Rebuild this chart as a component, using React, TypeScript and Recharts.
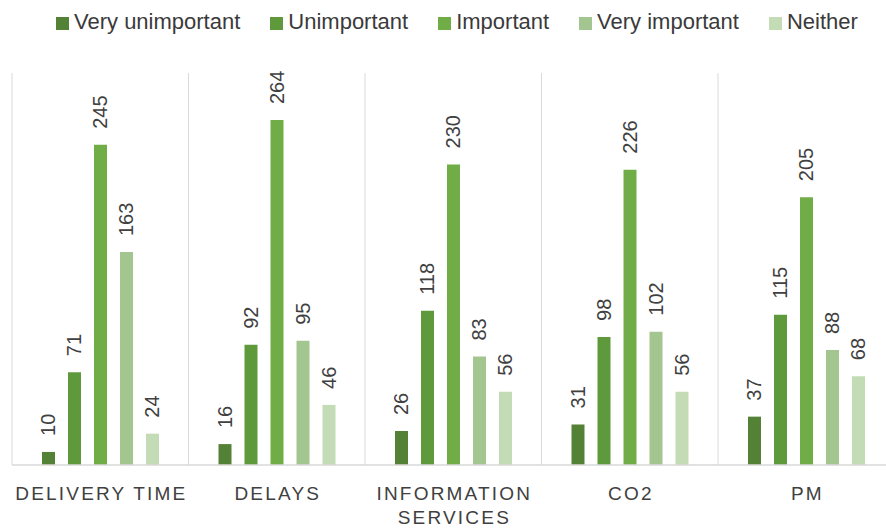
import React from "react";
import { BarChart, Bar, XAxis, YAxis, CartesianGrid, LabelList } from "recharts";

const categories = ["DELIVERY TIME", "DELAYS", "INFORMATION SERVICES", "CO2", "PM"];
const seriesNames = ["Very unimportant", "Unimportant", "Important", "Very important", "Neither"];
const veryUnimportant = [10, 16, 26, 31, 37];
const unimportant = [71, 92, 118, 98, 115];
const important = [245, 264, 230, 226, 205];
const veryImportant = [163, 95, 83, 102, 88];
const neither = [24, 46, 56, 56, 68];
const seriesColors = ["#538135", "#5e9a3c", "#70ad47", "#a3c690", "#c3dcb5"];

const seriesValues = [veryUnimportant, unimportant, important, veryImportant, neither];
const keys = ["s0", "s1", "s2", "s3", "s4"];

const data = categories.map((name, i) => {
  const row: Record<string, any> = { name };
  seriesValues.forEach((vals, k) => {
    row[keys[k]] = vals[i];
  });
  return row;
});

const FONT = "'Liberation Sans', Arial, sans-serif";
const TEXT_COLOR = "#404040";
const TICK_SPACING = 2.2;

const ValueLabel = (props: any) => {
  const { x, y, width, value } = props;
  const cx = Number(x) + Number(width) / 2;
  const ty = Number(y) - 16;
  return (
    <text
      x={cx}
      y={ty}
      transform={`rotate(-90, ${cx}, ${ty})`}
      textAnchor="start"
      dominantBaseline="central"
      fontFamily={FONT}
      fontSize={20}
      fill={TEXT_COLOR}
    >
      {value}
    </text>
  );
};

const CategoryTick = (props: any) => {
  const { x, y, payload } = props;
  const label: string = String(payload.value);
  const lines = label.length > 16 ? label.split(" ") : [label];
  return (
    <g>
      {lines.map((ln, i) => (
        <text
          key={i}
          x={Number(x) + TICK_SPACING / 2}
          y={Number(y) + 35 + i * 24}
          textAnchor="middle"
          fontFamily={FONT}
          fontSize={19}
          letterSpacing={TICK_SPACING}
          fill={TEXT_COLOR}
        >
          {ln}
        </text>
      ))}
    </g>
  );
};

const LegendRow = () => (
  <div
    style={{
      position: "absolute",
      top: 9,
      left: 56,
      display: "flex",
      alignItems: "center",
      gap: 30,
      fontFamily: FONT,
      fontSize: 22,
      lineHeight: "25px",
      color: "#3a3a3a",
      whiteSpace: "nowrap",
    }}
  >
    {seriesNames.map((n, i) => (
      <div key={n} style={{ display: "flex", alignItems: "center" }}>
        <span
          style={{
            display: "inline-block",
            width: 13,
            height: 13,
            marginTop: 3,
            marginRight: 5,
            background: seriesColors[i],
          }}
        />
        <span>{n}</span>
      </div>
    ))}
  </div>
);

export default function App() {
  return (
    <div
      style={{
        position: "absolute",
        left: 0,
        top: 0,
        width: 886,
        height: 529,
        overflow: "hidden",
        background: "#ffffff",
      }}
    >
      <BarChart
        width={900}
        height={529}
        data={data}
        margin={{ top: 73, right: 5.5, bottom: 0, left: 12 }}
        barGap={13}
        barCategoryGap={0}
      >
        <CartesianGrid
          horizontal={false}
          stroke="#d9d9d9"
          verticalCoordinatesGenerator={({ offset }: any) =>
            categories.map((_, i) => offset.left + (i * offset.width) / categories.length)
          }
        />
        <XAxis
          dataKey="name"
          height={64}
          tickLine={false}
          tickSize={0}
          tickMargin={0}
          axisLine={{ stroke: "#d9d9d9", strokeWidth: 1.5 }}
          tick={<CategoryTick />}
          interval={0}
        />
        <YAxis hide domain={[0, 300]} />
        {keys.map((k, i) => (
          <Bar
            key={k}
            dataKey={k}
            name={seriesNames[i]}
            fill={seriesColors[i]}
            barSize={13}
            isAnimationActive={false}
          >
            <LabelList dataKey={k} content={<ValueLabel />} />
          </Bar>
        ))}
      </BarChart>
      <LegendRow />
    </div>
  );
}
